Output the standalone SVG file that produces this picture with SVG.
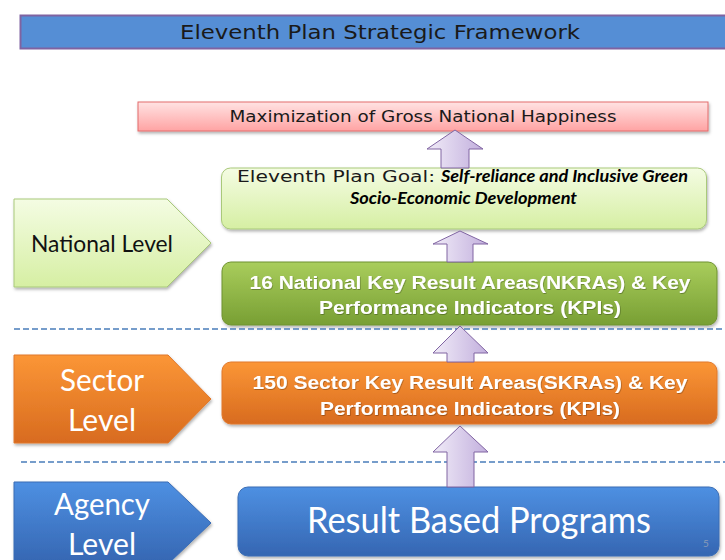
<svg xmlns="http://www.w3.org/2000/svg" width="725" height="560" viewBox="0 0 725 560">
<defs>
<linearGradient id="gPink" x1="0" y1="0" x2="0" y2="1"><stop offset="0" stop-color="#ffe3e3"/><stop offset="1" stop-color="#ffa3a3"/></linearGradient>
<linearGradient id="gLight" x1="0" y1="0" x2="0" y2="1"><stop offset="0" stop-color="#f4fce3"/><stop offset="1" stop-color="#d6efa3"/></linearGradient>
<linearGradient id="gGreen" x1="0" y1="0" x2="0" y2="1"><stop offset="0" stop-color="#a9cd5c"/><stop offset="1" stop-color="#789f33"/></linearGradient>
<linearGradient id="gOrange" x1="0" y1="0" x2="0" y2="1"><stop offset="0" stop-color="#fb9636"/><stop offset="1" stop-color="#d86b1f"/></linearGradient>
<linearGradient id="gBlue" x1="0" y1="0" x2="0" y2="1"><stop offset="0" stop-color="#4e90e2"/><stop offset="1" stop-color="#3566b2"/></linearGradient>
<linearGradient id="gArrow" x1="0" y1="0" x2="1" y2="0"><stop offset="0" stop-color="#f1ecf8"/><stop offset="1" stop-color="#c2afdd"/></linearGradient>
<filter id="sh" x="-10%" y="-20%" width="120%" height="150%"><feDropShadow dx="1" dy="2" stdDeviation="1.5" flood-color="#000" flood-opacity="0.3"/></filter>
<filter id="tsh" x="-5%" y="-20%" width="110%" height="150%"><feDropShadow dx="0.6" dy="0.8" stdDeviation="0.6" flood-color="#000" flood-opacity="0.35"/></filter>
</defs>
<style>
.gothic{font-family:"DejaVu Sans","Liberation Sans",sans-serif;fill:#1a1a1a}
.cal{font-family:Lato,"Open Sans",sans-serif}
.arial{font-family:"Liberation Sans",Arial,sans-serif;font-weight:bold;fill:#fff;font-size:18px}
.bi{font-family:Lato,"Open Sans",sans-serif;font-weight:bold;font-style:italic;fill:#000}
.dash{stroke:#4a7ebb;stroke-width:1.5;stroke-dasharray:6 3;fill:none}
.arrow{fill:url(#gArrow);stroke:#8064a2;stroke-width:1}
.white{fill:#fff}
</style>
<rect width="725" height="560" fill="#fff"/>

<g id="title">
<rect x="20.5" y="15.5" width="720" height="33" fill="#558ed5" stroke="#7f63a1" stroke-width="2"/>
<text class="gothic" x="380" y="39" font-size="19" text-anchor="middle" textLength="400" lengthAdjust="spacingAndGlyphs">Eleventh Plan Strategic Framework</text>
</g>

<g id="gnh">
<rect x="138" y="102" width="570" height="29" fill="url(#gPink)" stroke="#e36c6c" stroke-width="1" filter="url(#sh)"/>
<text class="gothic" x="423" y="122" font-size="15" text-anchor="middle" textLength="387" lengthAdjust="spacingAndGlyphs">Maximization of Gross National Happiness</text>
</g>

<g id="goal">
<rect x="221.5" y="168" width="485" height="61" rx="9" fill="url(#gLight)" stroke="#a9c97a" stroke-width="1" filter="url(#sh)"/>
<text class="gothic" x="237" y="182" font-size="16" textLength="198" lengthAdjust="spacingAndGlyphs">Eleventh Plan Goal:</text>
<text class="bi" x="441" y="182" font-size="17" textLength="247" lengthAdjust="spacingAndGlyphs">Self-reliance and Inclusive Green</text>
<text class="bi" x="350" y="204" font-size="17" textLength="227" lengthAdjust="spacingAndGlyphs">Socio-Economic Development</text>
</g>

<g id="national-level">
<polygon points="14,199 167,199 211,243 167,287 14,287" fill="url(#gLight)" stroke="#a9c97a" stroke-width="1" filter="url(#sh)"/>
<text class="cal" x="102" y="252" font-size="24" fill="#111" text-anchor="middle" textLength="142" lengthAdjust="spacingAndGlyphs">National Level</text>
</g>

<g id="nkra">
<rect x="222" y="262" width="495" height="63" rx="9" fill="url(#gGreen)" stroke="#6f9230" stroke-width="1" filter="url(#sh)"/>
<g filter="url(#tsh)">
<text class="arial" x="470" y="289" text-anchor="middle" textLength="441" lengthAdjust="spacingAndGlyphs">16 National Key Result Areas(NKRAs) &amp; Key</text>
<text class="arial" x="470" y="314" text-anchor="middle" textLength="302" lengthAdjust="spacingAndGlyphs">Performance Indicators (KPIs)</text>
</g>
</g>

<g id="sector-level">
<polygon points="14,355 168,355 211,399 168,443 14,443" fill="url(#gOrange)" stroke="#e0782c" stroke-width="1" filter="url(#sh)"/>
<text class="cal white" x="102" y="391" font-size="30" text-anchor="middle" textLength="84" lengthAdjust="spacingAndGlyphs">Sector</text>
<text class="cal white" x="102" y="431" font-size="30" text-anchor="middle" textLength="68" lengthAdjust="spacingAndGlyphs">Level</text>
</g>

<g id="skra">
<rect x="222" y="362" width="495" height="62" rx="9" fill="url(#gOrange)" stroke="#e0782c" stroke-width="1" filter="url(#sh)"/>
<g filter="url(#tsh)">
<text class="arial" x="470" y="389" font-size="17" text-anchor="middle" textLength="435" lengthAdjust="spacingAndGlyphs">150 Sector Key Result Areas(SKRAs) &amp; Key</text>
<text class="arial" x="470" y="415" font-size="17" text-anchor="middle" textLength="300" lengthAdjust="spacingAndGlyphs">Performance Indicators (KPIs)</text>
</g>
</g>

<g id="agency-level">
<polygon points="14,482 168,482 211,523 168,564 14,564" fill="url(#gBlue)" stroke="#3a6db5" stroke-width="1" filter="url(#sh)"/>
<text class="cal white" x="102" y="515" font-size="30" text-anchor="middle" textLength="96" lengthAdjust="spacingAndGlyphs">Agency</text>
<text class="cal white" x="102" y="555" font-size="30" text-anchor="middle" textLength="68" lengthAdjust="spacingAndGlyphs">Level</text>
</g>

<g id="programs">
<rect x="238" y="487" width="481" height="69" rx="10" fill="url(#gBlue)" stroke="#3a6db5" stroke-width="1" filter="url(#sh)"/>
<text class="cal white" x="479" y="533" font-size="37" text-anchor="middle" textLength="344" lengthAdjust="spacingAndGlyphs">Result Based Programs</text>
<text class="cal" x="703" y="547" font-size="10" fill="#8a9bb8">5</text>
</g>

<g id="separators">
<line class="dash" x1="14" y1="329" x2="725" y2="329"/>
<line class="dash" x1="21" y1="462" x2="725" y2="462"/>
</g>

<g id="connectors">
<polygon class="arrow" points="455,130 483,149 469,149 469,168 441,168 441,149 427,149"/>
<polygon class="arrow" points="460,231 488,244 473,244 473,262 447,262 447,244 433,244"/>
<polygon class="arrow" points="460,326 488,353 474,353 474,362 447,362 447,353 433,353"/>
<polygon class="arrow" points="460,426 488,452 474,452 474,487 447,487 447,452 433,452"/>
</g>
</svg>
